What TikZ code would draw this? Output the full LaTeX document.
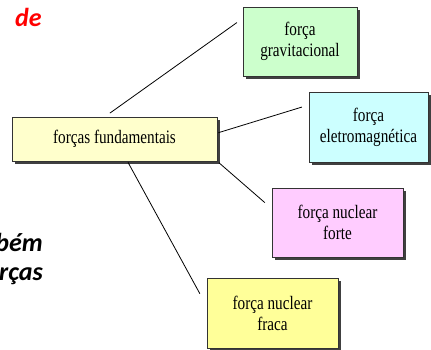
\documentclass[tikz,border=0pt]{standalone}
\usepackage{fontspec}
\setmainfont{Liberation Serif}
\newfontfamily\boxfont[FakeStretch=0.8]{Liberation Serif}
\newfontfamily\slidefont{Carlito}
\usetikzlibrary{shadows}
\definecolor{fundfill}{HTML}{FFFFCC}
\definecolor{gravfill}{HTML}{CCFFCC}
\definecolor{eletfill}{HTML}{CCFFFF}
\definecolor{fortefill}{HTML}{FFCCFF}
\definecolor{fracafill}{HTML}{FFFF99}
\tikzset{
  forcebox/.style={draw=black!80,line width=0.8pt,align=center,inner sep=0pt,
    font=\boxfont\fontsize{19}{21}\selectfont,
    drop shadow={shadow xshift=2.5pt,shadow yshift=-2.5pt,fill=black!75,opacity=1}},
  slidetext/.style={font=\slidefont\bfseries\itshape\fontsize{26}{29}\selectfont,inner sep=0pt},
  link/.style={draw=black,line width=0.8pt}
}
\begin{document}
\begin{tikzpicture}[x=1pt,y=-1pt]
  \useasboundingbox (0,0) rectangle (431,349);
  \node[slidetext,text=red,anchor=base west] (de) at (15,26) {de};
  \node[slidetext,anchor=base east] (bem) at (43,251) {bém};
  \node[slidetext,anchor=base east] (rcas) at (43,280) {rças};
  \node[forcebox,fill=fundfill,minimum width=205pt,minimum height=44pt] (fund) at (114.5,139) {forças fundamentais};
  \node[forcebox,fill=gravfill,minimum width=114pt,minimum height=69pt] (grav) at (300,41.5) {força\\gravitacional};
  \node[forcebox,fill=eletfill,minimum width=119pt,minimum height=70pt] (elet) at (368.5,127) {força\\eletromagnética};
  \node[forcebox,fill=fortefill,minimum width=131pt,minimum height=69pt] (forte) at (337.5,222.5) {força nuclear\\forte};
  \node[forcebox,fill=fracafill,minimum width=131pt,minimum height=70pt] (fraca) at (272.5,313) {força nuclear\\fraca};
  \draw[link,shorten <=6pt,shorten >=7pt] ([xshift=-9.5pt]fund.north)--([yshift=23pt]grav.west);
  \draw[link,shorten <=1pt,shorten >=7pt] ([yshift=6pt]fund.east)--([yshift=22pt]elet.west);
  \draw[link,shorten <=2pt,shorten >=9pt] (fund.south east)--([yshift=14pt]forte.west);
  \draw[link,shorten <=1pt,shorten >=14pt] ([xshift=13pt]fund.south)--([yshift=7pt]fraca.west);
\end{tikzpicture}
\end{document}
